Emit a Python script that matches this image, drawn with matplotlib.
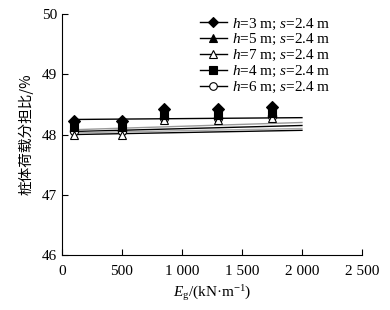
import numpy as np
import matplotlib.pyplot as plt
from matplotlib.ticker import FuncFormatter

plt.rcParams['font.family'] = ['Liberation Serif', 'Noto Sans CJK SC']
plt.rcParams['mathtext.fontset'] = 'custom'
plt.rcParams['mathtext.rm'] = 'Liberation Serif'
plt.rcParams['mathtext.it'] = 'Liberation Serif:italic'

# data
eg = [100, 500, 850, 1300, 1750]
labels = ['$h$=3 m; $s$=2.4 m', '$h$=5 m; $s$=2.4 m', '$h$=7 m; $s$=2.4 m',
          '$h$=4 m; $s$=2.4 m', '$h$=6 m; $s$=2.4 m']
ratio_h3 = [48.22, 48.22, 48.42, 48.42, 48.45]
ratio_h5 = [48.17, 48.17, 48.37, 48.37, 48.40]
ratio_h7 = [48.00, 48.00, 48.24, 48.24, 48.28]
ratio_h4 = [48.12, 48.12, 48.32, 48.32, 48.35]
ratio_h6 = [48.06, 48.06, 48.28, 48.28, 48.31]
# trend lines (start at 100, end at 2000)
trend_x = [100, 2000]
trend_h3 = [48.25, 48.28]
trend_h5 = [48.08, 48.20]
trend_h7 = [48.00, 48.07]
trend_h4 = [48.05, 48.15]
trend_h6 = [48.03, 48.10]

series = [ratio_h3, ratio_h5, ratio_h7, ratio_h4, ratio_h6]
trends = [trend_h3, trend_h5, trend_h7, trend_h4, trend_h6]
markers = ['D', '^', '^', 's', 'o']
faces = ['black', 'black', 'white', 'black', 'white']
line_cols = ['black', '#999999', 'black', 'black', '#aaaaaa']
zord = [7, 6, 4, 5, 3]

fig = plt.figure(figsize=(3.9, 3.1), dpi=100)
ax = fig.add_axes([0.159, 0.177, 0.769, 0.778])

handles = []
for i in range(5):
    ax.plot(trend_x, trends[i], color=line_cols[i], lw=1.0, zorder=2)
    ax.plot(eg, series[i], ls='none', marker=markers[i], ms=6,
            mfc=faces[i], mec='black', mew=0.8, zorder=zord[i])
    h, = ax.plot([], [], color='black', lw=1.0, marker=markers[i], ms=5.5,
                 mfc=faces[i], mec='black', mew=0.8, label=labels[i])
    handles.append(h)

ax.set_xlim(0, 2500)
ax.set_ylim(46, 50)
ax.set_xticks(np.arange(0, 2501, 500))
ax.set_yticks([46, 47, 48, 49, 50])
ax.xaxis.set_major_formatter(FuncFormatter(lambda v, p: f'{int(v):,}'.replace(',', ' ')))
ax.tick_params(direction='in', labelsize=11, length=4, width=0.8)
ax.tick_params(axis='x', pad=7)
for side in ['top', 'right']:
    ax.spines[side].set_visible(False)

ax.set_xlabel('$E_\\mathrm{g}$/(kN·m$^{-1}$)', fontsize=11, labelpad=4)
ax.set_ylabel('桩体荷载分担比/%', fontsize=10.5, family=['Noto Sans CJK SC'], labelpad=6)

ax.legend(handles=handles, loc='upper right', bbox_to_anchor=(0.915, 1.015),
          frameon=False, fontsize=11, handlelength=1.8, handletextpad=0.3,
          labelspacing=0.05, borderaxespad=0)

fig.savefig('out.png', dpi=100)
